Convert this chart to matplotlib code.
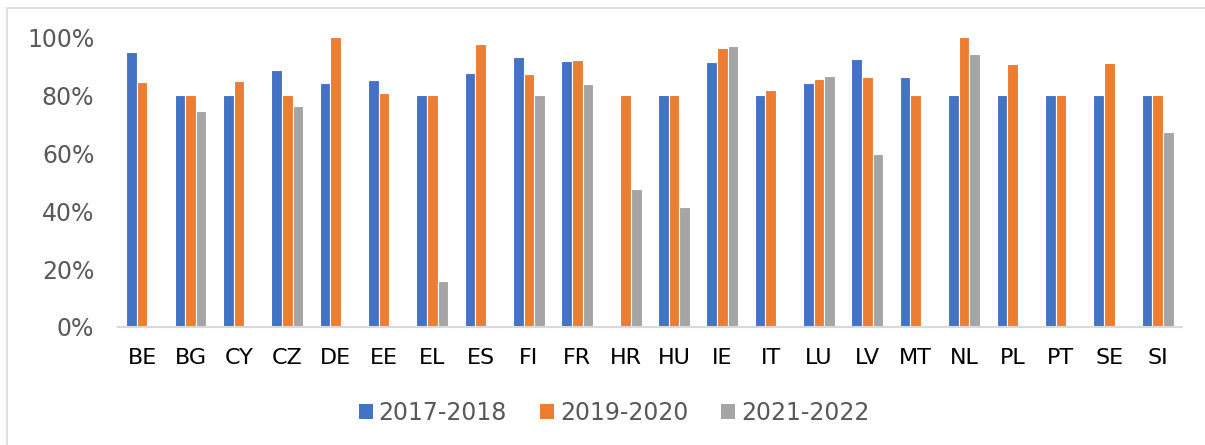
import numpy as np
import matplotlib
matplotlib.use("Agg")
from matplotlib import pyplot as plt
from matplotlib.patches import Patch
from matplotlib.lines import Line2D
from matplotlib.ticker import PercentFormatter

countries = ["BE", "BG", "CY", "CZ", "DE", "EE", "EL", "ES", "FI", "FR", "HR",
             "HU", "IE", "IT", "LU", "LV", "MT", "NL", "PL", "PT", "SE", "SI"]
periods = ["2017-2018", "2019-2020", "2021-2022"]

# shares in %, NaN where no bar
v_2017_2018 = [94.8, 80, 80, 88.7, 84.2, 85.1, 80, 87.8, 93.2, 91.8, np.nan,
               80, 91.5, 80, 84.3, 92.5, 86.3, 80, 80, 80, 80, 80]
v_2019_2020 = [84.6, 80, 85.0, 80, 100, 80.8, 80, 97.8, 87.4, 92.2, 80,
               80, 96.3, 81.7, 85.6, 86.2, 80, 100, 90.8, 80, 91.1, 80]
v_2021_2022 = [np.nan, 74.5, np.nan, 76.3, np.nan, np.nan, 15.8, np.nan, 80, 84.0, 47.6,
               41.5, 96.9, np.nan, 86.6, 59.7, np.nan, 94.3, np.nan, np.nan, np.nan, 67.2]

colors = ["#4472c4", "#ed7d31", "#a5a5a5"]

fig = plt.figure(figsize=(12.05, 4.45), dpi=100)
ax = fig.add_axes([0.0979, 0.2652, 0.8828, 0.651])

x = np.arange(len(countries))
w = 0.22
for i, (vals, col) in enumerate(zip([v_2017_2018, v_2019_2020, v_2021_2022], colors)):
    ax.bar(x + (i - 1) * w, vals, width=w, color=col, edgecolor="white", linewidth=0.8)

ax.set_xlim(-0.5, len(countries) - 0.5)
ax.set_ylim(0, 100)
ax.set_yticks(range(0, 101, 20))
ax.yaxis.set_major_formatter(PercentFormatter(decimals=0))
ax.set_xticks(x)
ax.set_xticklabels(countries)

for s in ["top", "right", "left"]:
    ax.spines[s].set_visible(False)
ax.spines["bottom"].set_color("#d9d9d9")
ax.spines["bottom"].set_linewidth(1.5)
ax.tick_params(axis="both", length=0)
ax.tick_params(axis="y", labelsize=17, labelcolor="#595959", pad=17)
ax.tick_params(axis="x", labelsize=16, labelcolor="#000000", pad=15)

handles = [Patch(facecolor=c, edgecolor="none") for c in colors]
fig.legend(handles, periods, loc="center", bbox_to_anchor=(0.5097, 0.072),
           ncol=3, frameon=False, fontsize=17, labelcolor="#595959",
           handlelength=0.58, handleheight=0.58, handletextpad=0.26,
           columnspacing=1.4)

# chart border (top and left edges only are inside the picture)
fig.add_artist(Line2D([7 / 1205, 7 / 1205, 1.0], [0.0, 1 - 8 / 445, 1 - 8 / 445],
                      transform=fig.transFigure, color="#d9d9d9", linewidth=1.2))

fig.savefig("out.png", dpi=100)
